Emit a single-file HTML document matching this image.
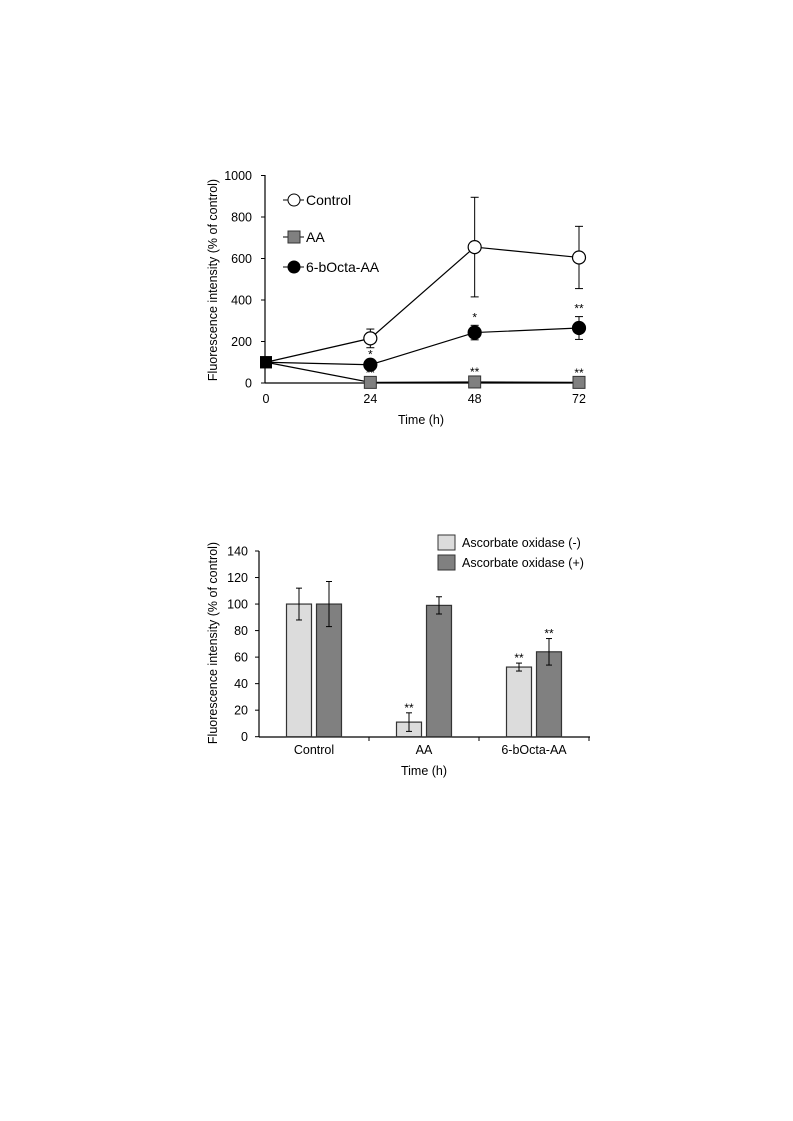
<!DOCTYPE html>
<html><head><meta charset="utf-8"><style>
body{margin:0;background:#fff;}
svg{display:block;font-family:"Liberation Sans",Arial,sans-serif;}
</style></head><body>
<svg width="793" height="1121" viewBox="0 0 793 1121">
<g id="c1"></g>
<g id="c2"></g>
</svg>
<script>
const times=[0,24,48,72];
const ctrlVals=[100,215,655,605];
const ctrlErr=[0,45,240,150];
const aaVals=[100,3,5,3];
const aaErr=[0,3,5,3];
const octaVals=[100,88,243,265];
const octaErr=[0,10,35,55];
const octaStars=["","*","*","**"];
const aaStars=["","**","**","**"];
const yTicks1=[0,200,400,600,800,1000];

const groups=["Control","AA","6-bOcta-AA"];
const minusVals=[100,11,52.5];
const minusErr=[12,7,3];
const plusVals=[100,99,64];
const plusErr=[17,6.5,10];
const minusStars=["","**","**"];
const plusStars=["","","**"];
const yTicks2=[0,20,40,60,80,100,120,140];

const NS="http://www.w3.org/2000/svg";
function mk(p,t,a,txt){const e=document.createElementNS(NS,t);for(const k in a)e.setAttribute(k,a[k]);if(txt!==undefined)e.textContent=txt;p.appendChild(e);return e;}

// chart 1
const g1=document.getElementById('c1');
const x1=t=>266+t*(579-266)/72;
const y1=v=>383-v*(383-175.5)/1000;
mk(g1,'line',{x1:265,y1:175,x2:265,y2:383,stroke:'#000','stroke-width':1.2});
mk(g1,'line',{x1:265,y1:383,x2:582,y2:383,stroke:'#000','stroke-width':1.2});
yTicks1.forEach(v=>{
 const tk=mk(g1,'line',{x1:261,y1:y1(v),x2:265,y2:y1(v),stroke:'#000'});
 
 
 const l=mk(g1,'text',{x:252,y:y1(v)+4.5,'text-anchor':'end','font-size':12.5},v);
 
 
});
times.forEach(t=>{
 const l=mk(g1,'text',{x:x1(t),y:403,'text-anchor':'middle','font-size':12.5},t);
 
 
});
mk(g1,'text',{x:421,y:424,'text-anchor':'middle','font-size':12.5,},'Time (h)');
mk(g1,'text',{x:0,y:0,transform:'translate(217,280) rotate(-90)','text-anchor':'middle','font-size':12.5,},'Fluorescence intensity (% of control)');
function series(vals,errs,stars,kind,name){
 const pts=vals.map((v,i)=>x1(times[i])+','+y1(v)).join(' ');
 const pl=mk(g1,'polyline',{points:pts,fill:'none',stroke:'#000','stroke-width':1.2});
 
 
 vals.forEach((v,i)=>{
  const x=x1(times[i]);
  if(errs[i]>0){
   mk(g1,'line',{x1:x,y1:y1(v+errs[i]),x2:x,y2:y1(v-errs[i]),stroke:'#000'});
   mk(g1,'line',{x1:x-4,y1:y1(v+errs[i]),x2:x+4,y2:y1(v+errs[i]),stroke:'#000'});
   mk(g1,'line',{x1:x-4,y1:y1(v-errs[i]),x2:x+4,y2:y1(v-errs[i]),stroke:'#000'});
  }
  let m;
  if(i===0){m=mk(g1,'rect',{x:x-6,y:y1(v)-6,width:12,height:12,fill:'#000'});}
  else if(kind==='sq'){m=mk(g1,'rect',{x:x-6,y:y1(v)-6,width:12,height:12,fill:'#808080',stroke:'#333'});}
  else {m=mk(g1,'circle',{cx:x,cy:y1(v),r:6.5,fill:kind==='open'?'#fff':'#000',stroke:'#000','stroke-width':1.2});}
  
  
  if(stars[i]){
   const top=v+errs[i];
   const s=mk(g1,'text',{x:x,y:(kind==='sq'?y1(top)-5:y1(top)-4),'text-anchor':'middle','font-size':12},stars[i]);
   
   
  }
 });
}
series(aaVals,aaErr,aaStars,'sq','aa');
series(octaVals,octaErr,octaStars,'fill','octa');
series(ctrlVals,ctrlErr,["","","",""],'open','control');
// legend 1
const lg=[['Control','open',200],['AA','sq',237],['6-bOcta-AA','fill',267]];
lg.forEach(([t,k,y])=>{
 const g=mk(g1,'g',{});
 mk(g,'line',{x1:283,y1:y,x2:304,y2:y,stroke:'#000'});
 if(k==='sq')mk(g,'rect',{x:288,y:y-6,width:12,height:12,fill:'#808080',stroke:'#333'});
 else mk(g,'circle',{cx:294,cy:y,r:6,fill:k==='open'?'#fff':'#000',stroke:'#000'});
 mk(g,'text',{x:306,y:y+5,'font-size':14},t);
});

// chart 2
const g2=document.getElementById('c2');
const y2=v=>736.7-v*(736.7-551)/140;
const gx=i=>259+110*i+55;
mk(g2,'line',{x1:259,y1:551,x2:259,y2:737,stroke:'#000','stroke-width':1.2});
mk(g2,'line',{x1:259,y1:737,x2:590,y2:737,stroke:'#000','stroke-width':1.2});
yTicks2.forEach(v=>{
 mk(g2,'line',{x1:255,y1:y2(v),x2:259,y2:y2(v),stroke:'#000'});
 const l=mk(g2,'text',{x:248,y:y2(v)+4.5,'text-anchor':'end','font-size':12.5},v);
 
 
});
[1,2,3].forEach(i=>mk(g2,'line',{x1:259+110*i,y1:737,x2:259+110*i,y2:741,stroke:'#000'}));
groups.forEach((c,i)=>{
 const l=mk(g2,'text',{x:gx(i),y:754,'text-anchor':'middle','font-size':12.5},c);
 
 
});
mk(g2,'text',{x:424,y:775,'text-anchor':'middle','font-size':12.5,},'Time (h)');
mk(g2,'text',{x:0,y:0,transform:'translate(217,643) rotate(-90)','text-anchor':'middle','font-size':12.5,},'Fluorescence intensity (% of control)');
function bars(vals,errs,stars,off,fill,name){
 vals.forEach((v,i)=>{
  const cx=gx(i)+off;
  const b=mk(g2,'rect',{x:cx-12.5,y:y2(v),width:25,height:y2(0)-y2(v),fill:fill,stroke:'#333','stroke-width':1.2});
  
  
  const t=y2(v+errs[i]),bt=y2(v-errs[i]);
  mk(g2,'line',{x1:cx,y1:t,x2:cx,y2:bt,stroke:'#000'});
  mk(g2,'line',{x1:cx-3,y1:t,x2:cx+3,y2:t,stroke:'#000'});
  mk(g2,'line',{x1:cx-3,y1:bt,x2:cx+3,y2:bt,stroke:'#000'});
  if(stars[i]){
   const s=mk(g2,'text',{x:cx,y:t-1,'text-anchor':'middle','font-size':12},stars[i]);
   
   
  }
 });
}
bars(minusVals,minusErr,minusStars,-15,'#dcdcdc','oxidase-minus');
bars(plusVals,plusErr,plusStars,15,'#808080','oxidase-plus');
[['Ascorbate oxidase (-)','#dcdcdc',535],['Ascorbate oxidase (+)','#808080',555]].forEach(([t,f,y])=>{
 const g=mk(g2,'g',{});
 mk(g,'rect',{x:438,y:y,width:17,height:15,fill:f,stroke:'#333'});
 mk(g,'text',{x:462,y:y+12,'font-size':12.5},t);
});
</script>
</body></html>
